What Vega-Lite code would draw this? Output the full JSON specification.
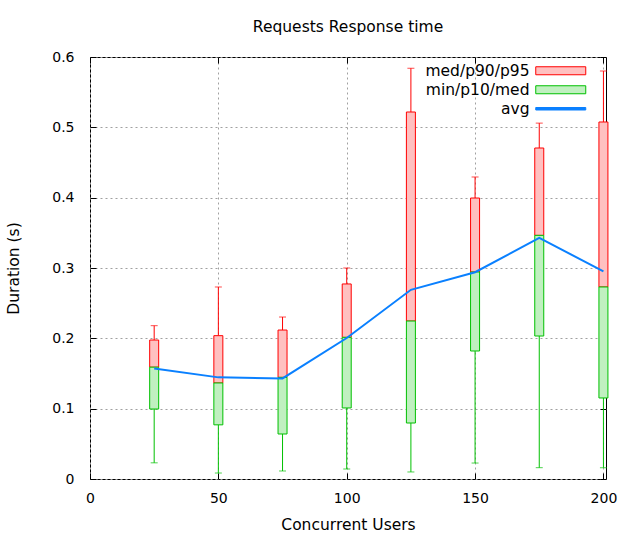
{
  "$schema": "https://vega.github.io/schema/vega-lite/v6.json",
  "width": 516,
  "height": 422,
  "autosize": {"type": "none"},
  "padding": {"left": 90, "top": 57, "right": 34, "bottom": 61},
  "background": "white",
  "title": {"text": "Requests Response time", "fontSize": 15.5, "fontWeight": "normal", "font": "DejaVu Sans", "offset": 15, "color": "black"},
  "config": {
    "font": "DejaVu Sans",
    "view": {"stroke": "black", "strokeWidth": 1},
    "scale": {"continuousPadding": 0},
    "axis": {
      "domain": false,
      "tickColor": "black",
      "tickSize": -6,
      "labelFontSize": 14,
      "labelColor": "black",
      "labelFlush": false,
      "titleFontSize": 15.5,
      "titleFontWeight": "normal",
      "titleColor": "black",
      "gridColor": "#a0a0a0",
      "gridDash": [2, 3],
      "gridOpacity": 1,
      "gridWidth": 1
    }
  },
  "data": {"values": [
    {"users": 25, "min": 0.023, "p10": 0.0995, "med": 0.159, "p90": 0.1976, "p95": 0.218, "avg": 0.157},
    {"users": 50, "min": 0.0085, "p10": 0.077, "med": 0.1365, "p90": 0.2038, "p95": 0.273, "avg": 0.1445},
    {"users": 75, "min": 0.0114, "p10": 0.064, "med": 0.1445, "p90": 0.2118, "p95": 0.2303, "avg": 0.143},
    {"users": 100, "min": 0.0142, "p10": 0.101, "med": 0.2014, "p90": 0.2773, "p95": 0.300, "avg": 0.2005},
    {"users": 125, "min": 0.010, "p10": 0.0796, "med": 0.2246, "p90": 0.5218, "p95": 0.584, "avg": 0.269},
    {"users": 150, "min": 0.0227, "p10": 0.182, "med": 0.2943, "p90": 0.3995, "p95": 0.4294, "avg": 0.294},
    {"users": 175, "min": 0.0161, "p10": 0.2033, "med": 0.3464, "p90": 0.4706, "p95": 0.506, "avg": 0.3427},
    {"users": 200, "min": 0.0161, "p10": 0.1152, "med": 0.273, "p90": 0.5076, "p95": 0.580, "avg": 0.2953}
  ]},
  "resolve": {"axis": {"x": "independent", "y": "independent"}},
  "layer": [
    {
      "mark": {"type": "rule", "color": "#ff0000", "strokeWidth": 1},
      "encoding": {
        "x": {"field": "users", "type": "quantitative", "scale": {"domain": [0, 201], "nice": false, "zero": false, "padding": 0},
              "axis": {"values": [0, 50, 100, 150, 200], "title": "Concurrent Users", "titlePadding": 12, "labelPadding": 18, "grid": true, "orient": "bottom"}},
        "y": {"field": "p90", "type": "quantitative", "scale": {"domain": [0, 0.6], "nice": false, "padding": 0},
              "axis": {"values": [0, 0.1, 0.2, 0.3, 0.4, 0.5, 0.6], "format": ".1~f", "title": "Duration (s)", "titlePadding": 30, "labelPadding": 22, "grid": true, "orient": "left"}},
        "y2": {"field": "p95"}
      }
    },
    {
      "mark": {"type": "tick", "color": "#ff0000", "orient": "horizontal", "size": 7, "thickness": 1},
      "encoding": {
        "x": {"field": "users", "type": "quantitative", "axis": {"orient": "top", "labels": false, "title": null, "grid": false, "values": [0, 50, 100, 150, 200]}},
        "y": {"field": "p95", "type": "quantitative", "axis": {"orient": "right", "labels": false, "title": null, "grid": false, "values": [0, 0.1, 0.2, 0.3, 0.4, 0.5, 0.6]}}
      }
    },
    {
      "mark": {"type": "bar", "fill": "#ffc0c0", "stroke": "#ff0000", "strokeWidth": 1, "size": 9},
      "encoding": {
        "x": {"field": "users", "type": "quantitative", "axis": null},
        "y": {"field": "med", "type": "quantitative", "axis": null},
        "y2": {"field": "p90"}
      }
    },
    {
      "mark": {"type": "rule", "color": "#00c000", "strokeWidth": 1},
      "encoding": {
        "x": {"field": "users", "type": "quantitative", "axis": null},
        "y": {"field": "min", "type": "quantitative", "axis": null},
        "y2": {"field": "p10"}
      }
    },
    {
      "mark": {"type": "tick", "color": "#00c000", "orient": "horizontal", "size": 7, "thickness": 1},
      "encoding": {
        "x": {"field": "users", "type": "quantitative", "axis": null},
        "y": {"field": "min", "type": "quantitative", "axis": null}
      }
    },
    {
      "mark": {"type": "bar", "fill": "#c0f0c0", "stroke": "#00c000", "strokeWidth": 1, "size": 9},
      "encoding": {
        "x": {"field": "users", "type": "quantitative", "axis": null},
        "y": {"field": "p10", "type": "quantitative", "axis": null},
        "y2": {"field": "med"}
      }
    },
    {
      "mark": {"type": "line", "color": "#0a80ff", "strokeWidth": 2},
      "encoding": {
        "x": {"field": "users", "type": "quantitative", "axis": null},
        "y": {"field": "avg", "type": "quantitative", "axis": null}
      }
    },
    {
      "data": {"values": [{"s": "med/p90/p95"}, {"s": "min/p10/med"}, {"s": "avg"}]},
      "mark": {"type": "point", "opacity": 0, "strokeWidth": 1, "filled": true},
      "encoding": {
        "fill": {"field": "s", "type": "nominal",
                 "scale": {"domain": ["med/p90/p95", "min/p10/med", "avg"], "range": ["#ffc0c0", "#c0f0c0", "#0a80ff"]},
                 "legend": {"title": null, "orient": "none", "legendX": 463, "legendY": 6, "padding": 0,
                            "symbolOpacity": 1, "symbolSize": 100, "symbolStrokeWidth": 1,
                            "labelAlign": "right", "labelOffset": -39, "labelFontSize": 15.5, "labelColor": "black", "rowPadding": 2,
                            "encode": {"symbols": {"update": {"fill": {"scale": "fill", "field": "value"}, "fillOpacity": {"value": 1}}}}}},
        "stroke": {"field": "s", "type": "nominal",
                   "scale": {"domain": ["med/p90/p95", "min/p10/med", "avg"], "range": ["#ff0000", "#00c000", "#0a80ff"]},
                   "legend": {"title": null}},
        "shape": {"field": "s", "type": "nominal",
                  "scale": {"domain": ["med/p90/p95", "min/p10/med", "avg"], "range": ["M-5,-0.8H5V0.8H-5Z", "M-5,-0.8H5V0.8H-5Z", "M-5,-0.25H5V0.25H-5Z"]},
                  "legend": {"title": null}}
      }
    }
  ]
}
